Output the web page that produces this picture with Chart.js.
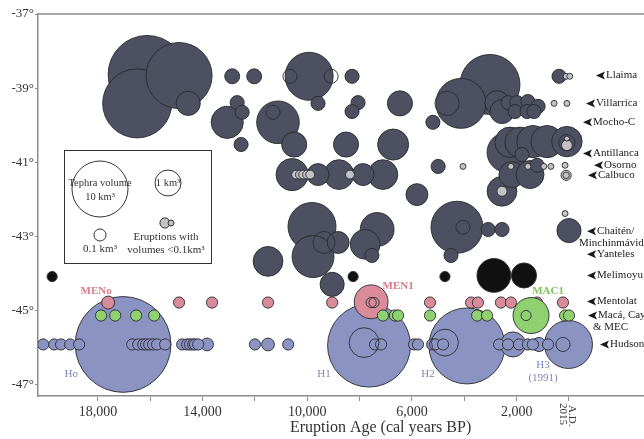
<!DOCTYPE html>
<html>
<head>
<meta charset="utf-8">
<script src="https://cdn.jsdelivr.net/npm/chart.js@4.4.1/dist/chart.umd.min.js"></script>
<style>
  html, body { margin: 0; padding: 0; background: #fff; overflow: hidden; }
  canvas { display: block; }
</style>
</head>
<body>
<canvas id="chart" width="644" height="439"></canvas>
<script>
// eruptions: [age (cal yr BP), latitude, tephra volume km3]
const darkEruptions = [
  [16120, -38.63, 27], [16500, -39.41, 18.7], [14900, -38.66, 16.4], [3020, -38.90, 12.3],
  [4280, -42.75, 8.0], [4130, -39.41, 7.1], [9930, -38.68, 6.3], [9820, -42.73, 6.3],
  [11120, -39.92, 4.4], [9780, -43.54, 4.2], [2370, -40.73, 3.6], [7330, -42.81, 2.2],
  [13060, -39.92, 1.9], [10580, -41.33, 1.9], [2250, -40.46, 1.6], [1870, -40.46, 1.6],
  [1380, -40.44, 1.9], [840, -40.44, 1.9], [80, -40.44, 1.6], [6720, -40.52, 1.7],
  [8790, -41.33, 1.5], [7110, -41.33, 1.5], [7790, -43.21, 1.5], [11500, -43.67, 1.5],
  [2560, -41.78, 1.5], [2180, -41.33, 1.0], [1490, -41.33, 1.25], [10500, -40.52, 0.9],
  [6460, -39.41, 0.9], [8520, -40.52, 0.9], [14550, -39.41, 0.8], [2750, -39.39, 0.8],
  [2560, -39.63, 0.8], [9050, -44.29, 0.8], [0, -42.84, 0.8], [9590, -41.33, 0.6],
  [7870, -41.33, 0.6], [5810, -41.87, 0.6], [8820, -43.16, 0.6],
  [12870, -38.68, 0.19], [12030, -38.68, 0.19], [12680, -39.39, 0.16], [12490, -39.65, 0.16],
  [12530, -40.52, 0.16], [8290, -38.68, 0.16], [9590, -39.41, 0.16], [8060, -39.39, 0.16],
  [8290, -39.63, 0.16], [5200, -39.92, 0.16], [5000, -41.11, 0.16], [2330, -39.39, 0.16],
  [1990, -39.39, 0.16], [1570, -39.36, 0.16], [1180, -39.49, 0.16], [2060, -39.63, 0.16],
  [1600, -39.63, 0.16], [1340, -39.63, 0.16], [380, -38.68, 0.16], [1800, -40.79, 0.16],
  [1220, -41.08, 0.16], [7530, -43.51, 0.16], [3090, -42.81, 0.16], [2560, -42.81, 0.16],
  [4510, -43.51, 0.16]
];
const smallEruptions = [
  [10430, -41.33, 0.04], [10280, -41.33, 0.04], [10160, -41.33, 0.04], [10010, -41.33, 0.04],
  [9890, -41.33, 0.04], [8370, -41.33, 0.04], [570, -39.41, 0.012], [80, -39.41, 0.012],
  [110, -38.68, 0.012], [-30, -38.68, 0.012], [4050, -41.11, 0.012], [2220, -41.11, 0.012],
  [1570, -41.11, 0.012], [960, -41.11, 0.012], [690, -41.11, 0.012], [150, -41.08, 0.012],
  [80, -40.54, 0.07], [80, -40.36, 0.007], [110, -41.35, 0.06], [2560, -41.78, 0.06],
  [150, -42.38, 0.012]
];
const melimoyu = [
  [2870, -44.05, 2.2], [1720, -44.05, 0.9], [19750, -44.08, 0.06], [8250, -44.08, 0.06], [4740, -44.08, 0.06]
];
const mentolat = [
  [7560, -44.76, 2.2], [17610, -44.78, 0.125], [14900, -44.78, 0.08], [13640, -44.78, 0.08],
  [11500, -44.78, 0.08], [9050, -44.78, 0.08], [5310, -44.78, 0.08], [3740, -44.78, 0.08],
  [3480, -44.78, 0.08], [2600, -44.78, 0.08], [2220, -44.78, 0.08], [1220, -44.78, 0.08],
  [230, -44.78, 0.08]
];
const maca = [
  [1450, -45.13, 2.65], [17880, -45.13, 0.08], [17340, -45.13, 0.08], [16540, -45.13, 0.08],
  [15850, -45.13, 0.08], [7110, -45.13, 0.08], [6650, -45.13, 0.08], [6530, -45.13, 0.08],
  [5310, -45.13, 0.08], [3510, -45.13, 0.08], [3130, -45.13, 0.08], [150, -45.13, 0.08],
  [0, -45.13, 0.08]
];
const hudson = [
  [17040, -45.91, 50], [7640, -45.94, 32.5], [3900, -45.95, 25], [20, -45.91, 6.3],
  [2140, -45.91, 0.9], [1150, -45.91, 0.16], [13830, -45.91, 0.12], [11500, -45.91, 0.12],
  [20090, -45.91, 0.08], [19670, -45.91, 0.08], [19410, -45.91, 0.08], [19060, -45.91, 0.08],
  [18720, -45.91, 0.08], [16690, -45.91, 0.08], [16460, -45.91, 0.08], [16270, -45.91, 0.08],
  [16160, -45.91, 0.08], [16040, -45.91, 0.08], [15890, -45.91, 0.08], [15740, -45.91, 0.08],
  [15430, -45.91, 0.08], [14780, -45.91, 0.08], [14590, -45.91, 0.08], [14480, -45.91, 0.08],
  [14360, -45.91, 0.08], [14290, -45.91, 0.08], [14170, -45.91, 0.08], [12000, -45.91, 0.08],
  [10730, -45.91, 0.08], [7410, -45.91, 0.08], [7180, -45.91, 0.08], [5920, -45.91, 0.08],
  [5770, -45.91, 0.08], [5230, -45.91, 0.08], [5120, -45.91, 0.08], [4810, -45.91, 0.08],
  [2670, -45.91, 0.08], [2330, -45.91, 0.08], [1910, -45.91, 0.08], [1570, -45.91, 0.08],
  [1380, -45.91, 0.08], [800, -45.91, 0.08]
];
// open outlines (nested / overlapping eruptions)
const outlines = [
  [11310, -39.65, 0.16], [10660, -38.68, 0.16], [9090, -38.68, 0.16], [4660, -39.41, 0.8],
  [80, -40.47, 0.25], [9360, -43.16, 0.6], [4050, -42.75, 0.16], [7560, -44.78, 0.06],
  [7450, -44.78, 0.06], [1640, -45.13, 0.06], [7830, -45.86, 1.5], [4740, -45.86, 1.1],
  [230, -45.91, 0.16], [110, -41.35, 0.015]
];

const xTickValues = [18000, 16000, 14000, 12000, 10000, 8000, 6000, 4000, 2000, 0];
const xTickLabels = ['18,000', '', '14,000', '', '10,000', '', '6,000', '', '2,000', ''];
const yTickValues = [-37, -39, -41, -43, -45, -47];
const yTickLabels = ['-37°', '-39°', '-41°', '-43°', '-45°', '-47°'];

const volcanoNames = ['Llaima', 'Villarrica', 'Mocho-C', 'Antillanca', 'Osorno', 'Calbuco',
  'Chaitén/', 'Minchinmávida,', 'Yanteles', 'Melimoyu', 'Mentolat', 'Macá, Cay', '& MEC', 'Hudson'];
const volcanoLat = [-38.66, -39.41, -39.92, -40.76, -41.08, -41.35, -42.86, -43.19, -43.48,
  -44.05, -44.75, -45.13, -45.45, -45.91];
const volcanoAge = [-1030, -650, -535, -535, -955, -725, -690, -380, -690, -690, -690, -725, -915, -1185];
const volcanoArrow = [1, 1, 1, 1, 1, 1, 1, 0, 1, 1, 1, 1, 0, 1];

const eventLabels = ['MENo', 'MEN1', 'MAC1', 'Ho', 'H1', 'H2', 'H3', '(1991)'];
const eventAge = [18070, 6530, 800, 19020, 9360, 5390, 990, 990];
const eventLat = [-44.48, -44.35, -44.48, -46.72, -46.72, -46.72, -46.47, -46.83];
const eventColor = ['#d77c8d', '#d77c8d', '#7cc35a', '#7d86b8', '#7d86b8', '#7d86b8', '#7d86b8', '#7d86b8'];

const rad = v => 13 * Math.cbrt(v);
const toPoints = arr => arr.map(([a, l, v]) => ({ x: a, y: l, r: rad(v) }));
const SERIF = '"Liberation Serif", "Times New Roman", serif';

Chart.defaults.font.family = SERIF;

const overlay = {
  id: 'overlay',
  afterDraw(chart) {
    const ctx = chart.ctx, a = chart.chartArea;
    const xs = chart.scales.x, ys = chart.scales.y;
    ctx.save();
    // top frame line
    ctx.strokeStyle = '#8c8c8c';
    ctx.lineWidth = 1.5;
    ctx.beginPath(); ctx.moveTo(a.left, a.top); ctx.lineTo(a.right, a.top); ctx.stroke();

    // event labels
    ctx.textAlign = 'center';
    ctx.textBaseline = 'middle';
    eventLabels.forEach((t, i) => {
      ctx.font = (i < 3 ? 'bold ' : '') + '11px ' + SERIF;
      ctx.fillStyle = eventColor[i];
      ctx.fillText(t, xs.getPixelForValue(eventAge[i]), ys.getPixelForValue(eventLat[i]));
    });

    // volcano names on the right
    ctx.font = '11px ' + SERIF;
    ctx.fillStyle = '#1a1a1a';
    ctx.textAlign = 'left';
    volcanoNames.forEach((n, i) => {
      const x = xs.getPixelForValue(volcanoAge[i]);
      const y = ys.getPixelForValue(volcanoLat[i]);
      if (volcanoArrow[i]) {
        ctx.beginPath();
        ctx.moveTo(x, y);
        ctx.lineTo(x + 9, y - 4);
        ctx.lineTo(x + 7, y);
        ctx.lineTo(x + 9, y + 4);
        ctx.closePath();
        ctx.fill();
        ctx.fillText(n, x + 10, y);
      } else {
        ctx.fillText(n, x, y);
      }
    });

    // size legend
    const bx = 64, by = 150, bw = 147, bh = 113;
    ctx.fillStyle = '#fff';
    ctx.fillRect(bx, by, bw, bh);
    ctx.strokeStyle = '#333';
    ctx.lineWidth = 1;
    ctx.strokeRect(bx + 0.5, by + 0.5, bw, bh);
    const ring = (x, y, r, fill) => {
      ctx.beginPath(); ctx.arc(x, y, r, 0, Math.PI * 2);
      ctx.fillStyle = fill; ctx.fill(); ctx.stroke();
    };
    ring(100, 189, rad(10), '#fff');
    ring(168, 183, rad(1), '#fff');
    ring(100, 235, rad(0.1), '#fff');
    ring(165, 223, rad(0.06), '#c3c3c5');
    ring(171, 223, rad(0.012), '#c3c3c5');
    ctx.fillStyle = '#333';
    ctx.textAlign = 'center';
    ctx.font = '10.5px ' + SERIF;
    ctx.fillText('Tephra volume', 100, 183);
    ctx.fillText('10 km³', 100, 197);
    ctx.fillText('1 km³', 168, 183);
    ctx.font = '11px ' + SERIF;
    ctx.fillText('0.1 km³', 100, 249);
    ctx.fillText('Eruptions with', 166, 237);
    ctx.fillText('volumes <0.1km³', 166, 250);

    // present-day tick label
    const p0 = xs.getPixelForValue(0);
    ctx.save();
    ctx.translate(p0, a.bottom + 7);
    ctx.rotate(Math.PI / 2);
    ctx.textAlign = 'left';
    ctx.font = '11px ' + SERIF;
    ctx.fillStyle = '#333';
    ctx.fillText('A.D.', 2, -3);
    ctx.fillText('2015', 0, 6);
    ctx.restore();

    // axis title
    ctx.font = '16px ' + SERIF;
    ctx.fillStyle = '#333';
    ctx.textAlign = 'center';
    ctx.fillText('Eruption Age (cal years BP)', xs.getPixelForValue(7200), 428);
    ctx.restore();
  }
};

const bubbleSet = (data, fill, order, border) => ({
  data: toPoints(data),
  backgroundColor: fill,
  borderColor: border || '#2a2a2e',
  borderWidth: 0.9,
  order: order
});

new Chart(document.getElementById('chart'), {
  type: 'bubble',
  data: {
    datasets: [
      bubbleSet(outlines, 'rgba(0,0,0,0)', 0, '#2d2d33'),
      bubbleSet(smallEruptions, '#c3c3c5', 1),
      bubbleSet(melimoyu, '#111111', 2),
      bubbleSet(maca, '#8fd070', 3),
      bubbleSet(mentolat, '#d98b9a', 4),
      bubbleSet(hudson, '#8b93c3', 5),
      bubbleSet(darkEruptions, '#4c5061', 6)
    ]
  },
  options: {
    responsive: false,
    animation: false,
    events: [],
    layout: { autoPadding: false, padding: { top: 14, right: 0, left: 0, bottom: 0 } },
    plugins: { legend: { display: false }, tooltip: { enabled: false } },
    scales: {
      x: {
        type: 'linear',
        reverse: true,
        min: -2866,
        max: 20290,
        afterFit: s => { s.height = 43; },
        afterBuildTicks: s => { s.ticks = xTickValues.map(v => ({ value: v })); },
        ticks: {
          autoSkip: false,
          maxRotation: 0,
          padding: 3,
          color: '#333',
          font: { size: 14 },
          callback: (v, i) => xTickLabels[i]
        },
        grid: { display: true, drawOnChartArea: false, drawTicks: true, tickLength: 5, color: '#8c8c8c' },
        border: { display: true, color: '#8c8c8c', width: 1.5 }
      },
      y: {
        type: 'linear',
        min: -47.3,
        max: -37,
        afterFit: s => { s.width = 38; },
        afterBuildTicks: s => { s.ticks = yTickValues.map(v => ({ value: v })); },
        ticks: {
          padding: 1,
          color: '#333',
          font: { size: 13 },
          callback: (v, i) => yTickLabels[i]
        },
        grid: { display: true, drawOnChartArea: false, drawTicks: true, tickLength: 3, color: '#8c8c8c' },
        border: { display: true, color: '#8c8c8c', width: 1.5 }
      }
    }
  },
  plugins: [overlay]
});
</script>
</body>
</html>
